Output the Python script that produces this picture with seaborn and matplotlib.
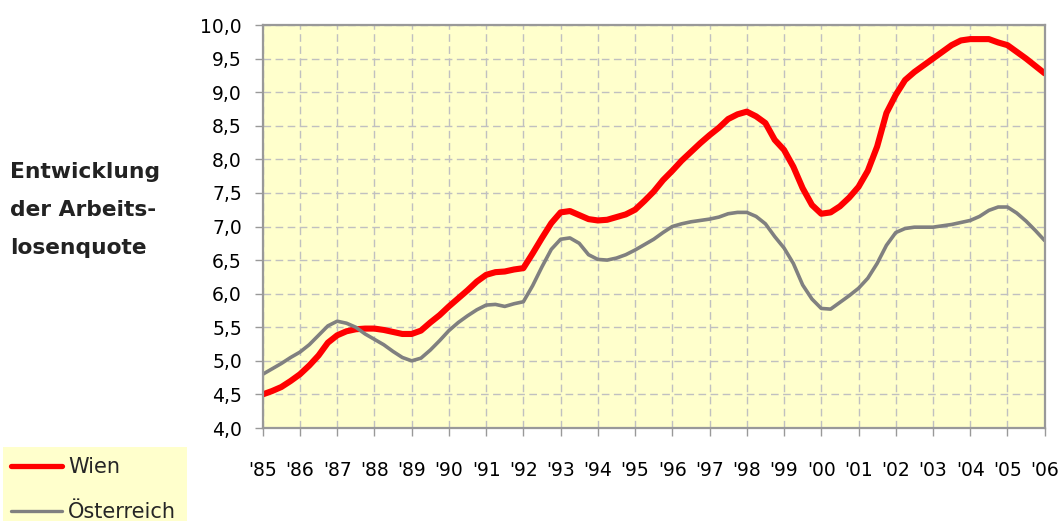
import numpy as np
import pandas as pd
import matplotlib
matplotlib.use('Agg')
import matplotlib.pyplot as plt
import seaborn as sns
from matplotlib.lines import Line2D
from matplotlib.patches import Rectangle

# ---- data (quarterly readings, 1985 Q1 .. 2006 Q1) ----
start_year = 1985
wien = [4.50, 4.55, 4.61, 4.70, 4.80, 4.93, 5.08, 5.27, 5.38, 5.44, 5.47, 5.48,
        5.48, 5.46, 5.43, 5.40, 5.40, 5.45, 5.57, 5.68, 5.81, 5.93, 6.05, 6.18,
        6.28, 6.32, 6.33, 6.36, 6.38, 6.60, 6.83, 7.05, 7.21, 7.23, 7.17, 7.11,
        7.09, 7.10, 7.14, 7.18, 7.25, 7.38, 7.52, 7.69, 7.83, 7.98, 8.11, 8.24,
        8.36, 8.47, 8.60, 8.67, 8.71, 8.64, 8.54, 8.29, 8.14, 7.89, 7.57, 7.32,
        7.19, 7.21, 7.30, 7.43, 7.59, 7.83, 8.19, 8.69, 8.96, 9.18, 9.30, 9.40,
        9.50, 9.60, 9.70, 9.77, 9.79, 9.79, 9.79, 9.74, 9.70, 9.60, 9.50, 9.39,
        9.28]
oesterreich = [4.80, 4.88, 4.96, 5.05, 5.13, 5.24, 5.38, 5.52, 5.59, 5.56, 5.50, 5.40,
               5.32, 5.24, 5.14, 5.05, 5.00, 5.04, 5.16, 5.30, 5.45, 5.57, 5.67, 5.76,
               5.83, 5.84, 5.81, 5.85, 5.88, 6.12, 6.40, 6.66, 6.81, 6.83, 6.75, 6.58,
               6.51, 6.50, 6.53, 6.58, 6.65, 6.73, 6.81, 6.91, 7.00, 7.04, 7.07, 7.09,
               7.11, 7.14, 7.19, 7.21, 7.21, 7.15, 7.04, 6.85, 6.68, 6.45, 6.13, 5.92,
               5.78, 5.77, 5.87, 5.97, 6.08, 6.23, 6.45, 6.72, 6.91, 6.97, 6.99, 6.99,
               6.99, 7.01, 7.03, 7.06, 7.09, 7.15, 7.24, 7.29, 7.29, 7.20, 7.08, 6.94,
               6.79]
series_names = ['Wien', 'Österreich']
tick_years = list(range(1985, 2007))
tick_labels = ["'" + str(y)[2:] for y in tick_years]
y_ticks = [4.0, 4.5, 5.0, 5.5, 6.0, 6.5, 7.0, 7.5, 8.0, 8.5, 9.0, 9.5, 10.0]
y_tick_labels = [f"{v:.1f}".replace('.', ',') for v in y_ticks]
side_title = "Entwicklung\nder Arbeits-\nlosenquote"

colors = {'Wien': '#FF0000', 'Österreich': '#808080'}
widths = {'Wien': 4.4, 'Österreich': 2.6}

quarter_years = start_year + np.arange(len(wien)) / 4.0
df = pd.DataFrame({
    'Jahr': np.concatenate([quarter_years, quarter_years]),
    'Quote': wien + oesterreich,
    'Reihe': ['Wien'] * len(wien) + ['Österreich'] * len(oesterreich),
})

sns.set_style('white')
plt.rcParams['font.family'] = ['DejaVu Sans']

fig = plt.figure(figsize=(10.64, 5.21), dpi=100)
ax = fig.add_axes([262.7 / 1064, 1 - 428 / 521, (1044.7 - 262.7) / 1064, (428 - 25) / 521])
ax.set_facecolor('#FFFFCC')

sns.lineplot(data=df, x='Jahr', y='Quote', hue='Reihe', size='Reihe',
             hue_order=series_names, size_order=series_names,
             palette=colors, sizes=widths, estimator=None, sort=False,
             legend=False, ax=ax)

ax.set_xlim(1985, 2006)
ax.set_ylim(4.0, 10.0)
ax.set_xticks(tick_years)
ax.set_xticklabels(tick_labels)
ax.set_yticks(y_ticks)
ax.set_yticklabels(y_tick_labels)
ax.set_xlabel('')
ax.set_ylabel('')

ax.grid(True, color='#c0c0c0', linestyle=(0, (5.5, 3.2)), linewidth=1.0)
ax.set_axisbelow(True)
for s in ax.spines.values():
    s.set_color('#999999')
    s.set_linewidth(1.6)
    s.set_visible(True)

ax.tick_params(axis='y', which='both', left=True, length=6, width=1, color='#999999',
               pad=9, labelsize=13.5, labelcolor='black')
ax.tick_params(axis='x', which='both', bottom=True, length=6, width=1, color='#999999',
               pad=18, labelsize=13.5, labelcolor='black')

fig.text(10 / 1064, 1 - 210 / 521, side_title, ha='left', va='center',
         fontsize=15.7, fontweight='bold', linespacing=2.15, color='#222222')

# legend box
fig.patches.append(Rectangle((3 / 1064, 0), 184 / 1064, 74 / 521,
                             transform=fig.transFigure, facecolor='#FFFFCC',
                             edgecolor='none', zorder=0))
handles = [Line2D([0], [0], color=colors[n], linewidth=(3.8 if n == 'Wien' else 2.4),
                  solid_capstyle='round') for n in series_names]
fig.legend(handles, series_names, loc='upper left',
           bbox_to_anchor=(11 / 1064, 1 - 457 / 521), frameon=False,
           fontsize=15, handlelength=2.45, handletextpad=0.28,
           borderpad=0, borderaxespad=0, labelspacing=1.2)

fig.savefig('out.png', dpi=100)
